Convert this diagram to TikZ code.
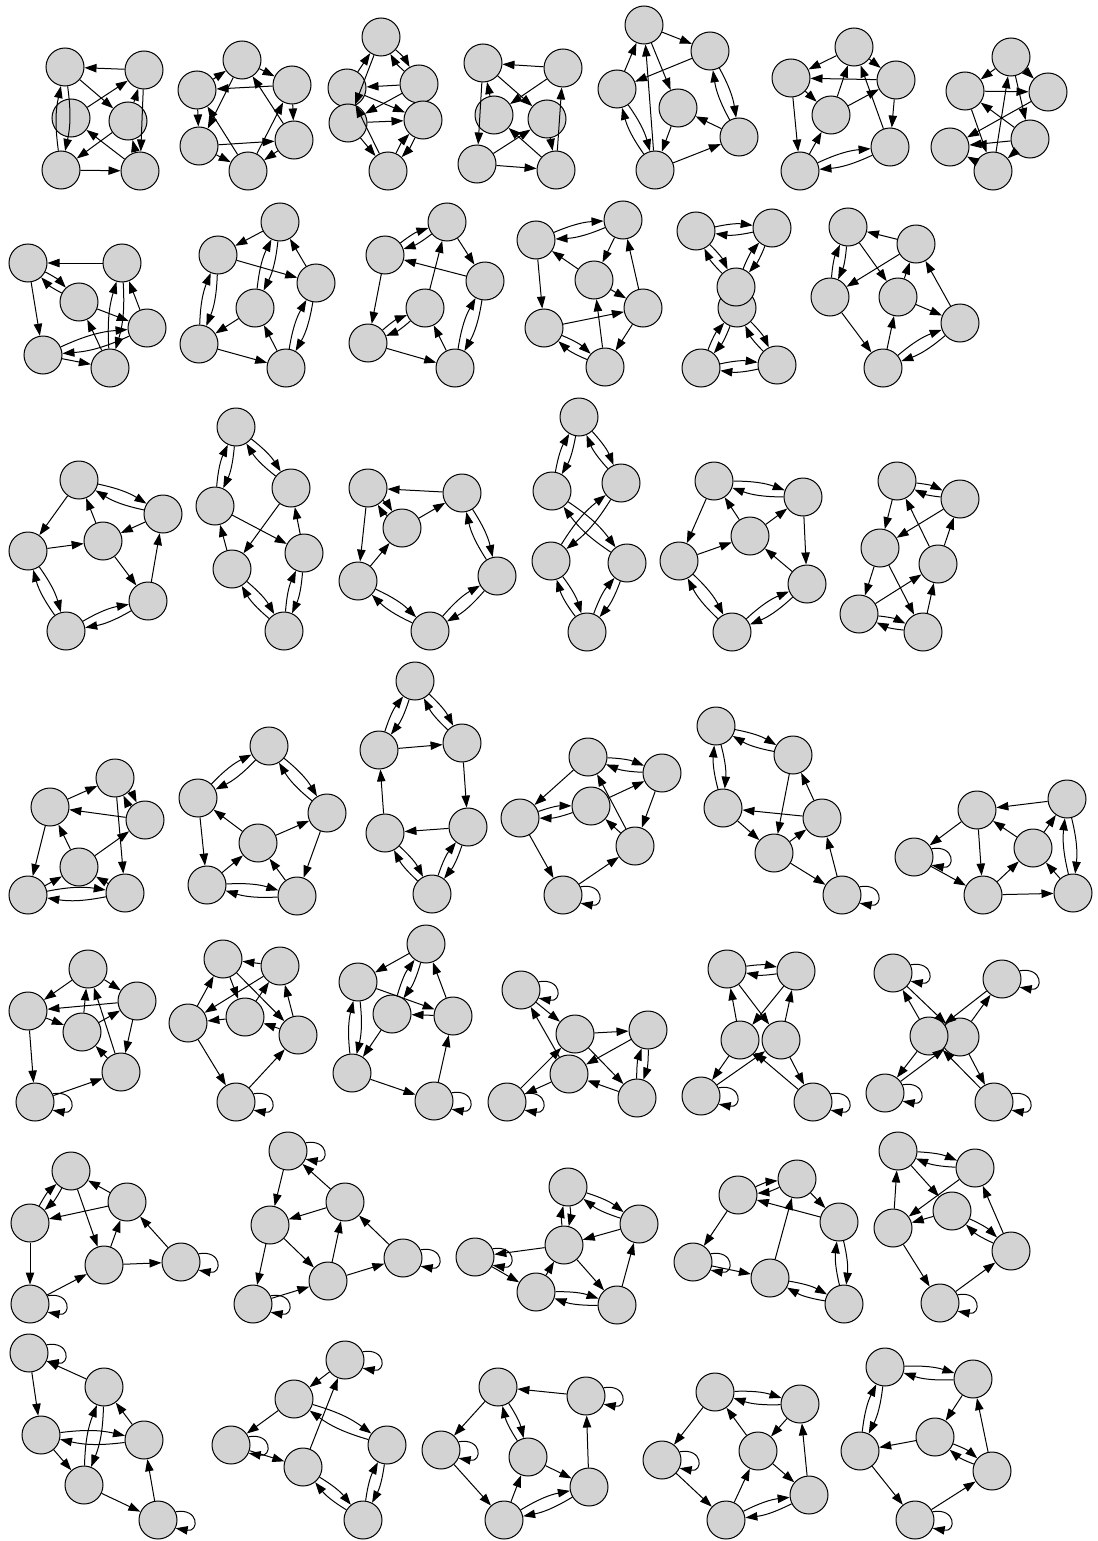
\documentclass[tikz,border=0pt]{standalone}
\usetikzlibrary{arrows.meta}
\definecolor{nodegray}{RGB}{211,211,211}
\tikzset{
  nd/.style={circle,draw=black,fill=nodegray,line width=0.5pt,minimum size=19pt,inner sep=0pt},
  ed/.style={line width=0.5pt,-{Triangle[length=6pt,width=4.2pt]}}
}
\newcommand\gN[3]{\node[nd] (#1) at (#2,#3) {};}
\newcommand\gE[2]{\draw[ed] (#1) -- (#2);}
\newcommand\gB[2]{\draw[ed] (#1) to[bend left=10] (#2); \draw[ed] (#2) to[bend left=10] (#1);}
\newcommand\gL[1]{\draw[ed] (#1.25) .. controls +(10:12pt) and +(-10:12pt) .. (#1.-25);}
\begin{document}
\begin{tikzpicture}[x=0.5pt,y=-0.5pt]
\fill[white] (0,0) rectangle (1097,1541);
\useasboundingbox (0,0) rectangle (1097,1541);
% ---------- Row 1 ----------
% G1
\gN{g1a}{65}{67}\gN{g1b}{144}{70}\gN{g1c}{71}{118}\gN{g1d}{128}{121}\gN{g1e}{61}{170}\gN{g1f}{140}{171}
\gE{g1b}{g1a}\gE{g1a}{g1d}\gE{g1c}{g1b}\gE{g1d}{g1b}\gE{g1b}{g1f}\gE{g1f}{g1d}\gE{g1d}{g1e}\gE{g1f}{g1c}\gE{g1e}{g1f}\gB{g1a}{g1e}
% G2
\gN{g2a}{242}{60}\gN{g2b}{197}{90}\gN{g2c}{292}{85}\gN{g2d}{199}{146}\gN{g2e}{294}{140}\gN{g2f}{248}{171}
\gE{g2b}{g2a}\gE{g2a}{g2c}\gE{g2c}{g2b}\gE{g2a}{g2d}\gE{g2f}{g2b}\gE{g2b}{g2d}\gE{g2c}{g2e}\gE{g2e}{g2a}\gE{g2d}{g2e}\gE{g2f}{g2c}\gE{g2d}{g2f}\gE{g2e}{g2f}
% G3
\gN{g3a}{381}{37}\gN{g3b}{347}{88}\gN{g3c}{419}{84}\gN{g3d}{348}{123}\gN{g3e}{423}{120}\gN{g3f}{388}{171}
\gE{g3b}{g3a}\gE{g3a}{g3d}\gB{g3a}{g3c}\gE{g3c}{g3b}\gE{g3b}{g3e}\gE{g3c}{g3d}\gE{g3d}{g3e}\gE{g3d}{g3f}\gE{g3f}{g3b}\gB{g3e}{g3f}
% G4
\gN{g4a}{483}{63}\gN{g4b}{563}{68}\gN{g4c}{494}{115}\gN{g4d}{547}{119}\gN{g4e}{477}{164}\gN{g4f}{556}{170}
\gE{g4b}{g4a}\gE{g4a}{g4d}\gE{g4b}{g4c}\gE{g4a}{g4e}\gE{g4c}{g4a}\gE{g4e}{g4d}\gE{g4f}{g4c}\gE{g4e}{g4f}\gE{g4f}{g4b}\gE{g4d}{g4f}
% G5
\gN{g5a}{644}{25}\gN{g5b}{710}{51}\gN{g5c}{617}{89}\gN{g5d}{678}{108}\gN{g5e}{739}{137}\gN{g5f}{655}{170}
\gE{g5a}{g5b}\gE{g5b}{g5c}\gE{g5c}{g5a}\gE{g5a}{g5d}\gE{g5f}{g5a}\gB{g5c}{g5f}\gE{g5d}{g5f}\gE{g5e}{g5d}\gE{g5f}{g5e}\gB{g5b}{g5e}
% G6
\gN{g6a}{854}{47}\gN{g6b}{791}{78}\gN{g6c}{896}{80}\gN{g6d}{831}{115}\gN{g6e}{890}{147}\gN{g6f}{800}{171}
\gE{g6a}{g6b}\gE{g6c}{g6b}\gE{g6a}{g6c}\gE{g6b}{g6d}\gE{g6d}{g6a}\gE{g6d}{g6c}\gE{g6c}{g6e}\gE{g6e}{g6a}\gE{g6b}{g6f}\gE{g6f}{g6d}\gB{g6f}{g6e}
% G7
\gN{g7a}{1011}{57}\gN{g7b}{965}{91}\gN{g7c}{1048}{92}\gN{g7d}{1030}{139}\gN{g7e}{950}{147}\gN{g7f}{993}{171}
\gE{g7a}{g7b}\gE{g7b}{g7c}\gE{g7a}{g7c}\gE{g7a}{g7d}\gE{g7f}{g7a}\gE{g7b}{g7f}\gE{g7c}{g7e}\gE{g7d}{g7e}\gE{g7d}{g7b}\gE{g7f}{g7e}\gE{g7d}{g7f}
% ---------- Row 2 ----------
% G8
\gN{g8a}{28}{263}\gN{g8b}{122}{263}\gN{g8c}{79}{302}\gN{g8d}{147}{328}\gN{g8e}{43}{355}\gN{g8f}{110}{368}
\gE{g8b}{g8a}\gB{g8a}{g8c}\gE{g8a}{g8e}\gE{g8c}{g8d}\gB{g8e}{g8d}\gE{g8e}{g8f}\gE{g8f}{g8c}\gB{g8f}{g8b}\gE{g8d}{g8b}
% G9
\gN{g9a}{280}{222}\gN{g9b}{218}{255}\gN{g9c}{316}{283}\gN{g9d}{255}{308}\gN{g9e}{199}{344}\gN{g9f}{286}{368}
\gE{g9a}{g9b}\gE{g9b}{g9c}\gB{g9a}{g9d}\gE{g9c}{g9a}\gB{g9b}{g9e}\gE{g9d}{g9e}\gE{g9e}{g9f}\gE{g9f}{g9d}\gB{g9f}{g9c}
% G10
\gN{g10a}{447}{222}\gN{g10b}{385}{255}\gN{g10c}{485}{281}\gN{g10d}{425}{308}\gN{g10e}{368}{343}\gN{g10f}{455}{368}
\gB{g10b}{g10a}\gE{g10a}{g10c}\gE{g10c}{g10b}\gE{g10d}{g10a}\gE{g10b}{g10e}\gB{g10e}{g10d}\gE{g10e}{g10f}\gE{g10f}{g10d}\gB{g10f}{g10c}
% G11
\gN{g11a}{536}{240}\gN{g11b}{623}{220}\gN{g11c}{594}{280}\gN{g11d}{643}{308}\gN{g11e}{544}{328}\gN{g11f}{605}{367}
\gB{g11a}{g11b}\gE{g11b}{g11c}\gE{g11c}{g11a}\gE{g11a}{g11e}\gE{g11c}{g11d}\gE{g11d}{g11b}\gE{g11e}{g11d}\gB{g11e}{g11f}\gE{g11f}{g11c}\gE{g11d}{g11f}
% G12
\gN{g12a}{696}{231}\gN{g12b}{772}{228}\gN{g12d}{737}{308}\gN{g12c}{736}{287}\gN{g12e}{701}{368}\gN{g12f}{777}{365}
\gB{g12a}{g12b}\gB{g12a}{g12c}\gB{g12b}{g12c}\gB{g12e}{g12d}\gB{g12f}{g12d}\gB{g12e}{g12f}
% G13
\gN{g13a}{848}{227}\gN{g13b}{916}{244}\gN{g13c}{830}{297}\gN{g13d}{898}{297}\gN{g13e}{960}{323}\gN{g13f}{883}{368}
\gE{g13b}{g13a}\gB{g13c}{g13a}\gE{g13b}{g13c}\gE{g13a}{g13d}\gE{g13d}{g13b}\gE{g13d}{g13e}\gE{g13e}{g13b}\gE{g13c}{g13f}\gE{g13f}{g13d}\gB{g13f}{g13e}
% ---------- Row 3 ----------
% G14
\gN{g14a}{79}{480}\gN{g14b}{163}{514}\gN{g14c}{28}{551}\gN{g14d}{103}{541}\gN{g14e}{148}{601}\gN{g14f}{66}{631}
\gB{g14a}{g14b}\gE{g14a}{g14c}\gE{g14b}{g14d}\gE{g14d}{g14a}\gE{g14c}{g14d}\gE{g14d}{g14e}\gE{g14e}{g14b}\gB{g14c}{g14f}\gB{g14f}{g14e}
% G15
\gN{g15a}{236}{427}\gN{g15b}{215}{506}\gN{g15c}{291}{488}\gN{g15d}{304}{553}\gN{g15e}{232}{569}\gN{g15f}{284}{631}
\gB{g15b}{g15a}\gB{g15a}{g15c}\gE{g15b}{g15d}\gE{g15c}{g15e}\gE{g15e}{g15b}\gE{g15d}{g15c}\gB{g15e}{g15f}\gB{g15f}{g15d}
% G16
\gN{g16a}{368}{488}\gN{g16b}{402}{528}\gN{g16c}{462}{493}\gN{g16d}{358}{581}\gN{g16e}{430}{631}\gN{g16f}{497}{576}
\gE{g16c}{g16a}\gB{g16a}{g16b}\gE{g16b}{g16c}\gE{g16a}{g16d}\gE{g16d}{g16b}\gB{g16d}{g16e}\gB{g16c}{g16f}\gB{g16e}{g16f}
% G17
\gN{g17a}{579}{417}\gN{g17b}{552}{491}\gN{g17c}{621}{483}\gN{g17d}{551}{561}\gN{g17e}{627}{563}\gN{g17f}{587}{632}
\gB{g17b}{g17a}\gB{g17a}{g17c}\gB{g17b}{g17e}\gB{g17c}{g17d}\gB{g17d}{g17f}\gB{g17f}{g17e}
% G18
\gN{g18a}{714}{481}\gN{g18b}{803}{497}\gN{g18c}{750}{536}\gN{g18d}{679}{561}\gN{g18e}{807}{584}\gN{g18f}{732}{632}
\gB{g18a}{g18b}\gE{g18c}{g18a}\gE{g18c}{g18b}\gE{g18a}{g18d}\gE{g18d}{g18c}\gE{g18b}{g18e}\gE{g18e}{g18c}\gB{g18d}{g18f}\gB{g18f}{g18e}
% G19
\gN{g19a}{897}{481}\gN{g19b}{960}{499}\gN{g19c}{880}{548}\gN{g19d}{938}{564}\gN{g19e}{859}{614}\gN{g19f}{923}{632}
\gB{g19a}{g19b}\gE{g19a}{g19c}\gE{g19b}{g19c}\gE{g19d}{g19a}\gE{g19d}{g19b}\gE{g19c}{g19e}\gE{g19c}{g19f}\gE{g19e}{g19d}\gE{g19f}{g19d}\gB{g19e}{g19f}
% ---------- Row 4 ----------
% G20
\gN{g20a}{115}{778}\gN{g20b}{50}{807}\gN{g20c}{145}{820}\gN{g20d}{79}{867}\gN{g20e}{28}{895}\gN{g20f}{125}{893}
\gE{g20b}{g20a}\gB{g20a}{g20c}\gE{g20c}{g20b}\gE{g20d}{g20b}\gE{g20d}{g20c}\gE{g20a}{g20f}\gE{g20b}{g20e}\gE{g20e}{g20d}\gE{g20f}{g20d}\gB{g20e}{g20f}
% G21
\gN{g21a}{269}{746}\gN{g21b}{198}{798}\gN{g21c}{327}{813}\gN{g21d}{258}{843}\gN{g21e}{207}{885}\gN{g21f}{297}{896}
\gB{g21b}{g21a}\gB{g21a}{g21c}\gE{g21d}{g21b}\gE{g21d}{g21c}\gE{g21b}{g21e}\gE{g21c}{g21f}\gE{g21e}{g21d}\gE{g21f}{g21d}\gB{g21e}{g21f}
% G22
\gN{g22a}{415}{681}\gN{g22b}{379}{750}\gN{g22c}{462}{743}\gN{g22d}{385}{833}\gN{g22e}{468}{827}\gN{g22f}{432}{894}
\gB{g22b}{g22a}\gB{g22a}{g22c}\gE{g22b}{g22c}\gE{g22d}{g22b}\gE{g22c}{g22e}\gE{g22e}{g22d}\gB{g22d}{g22f}\gB{g22f}{g22e}
% G23
\gN{g23a}{588}{757}\gN{g23b}{662}{773}\gN{g23c}{520}{818}\gN{g23d}{591}{806}\gN{g23e}{635}{846}\gN{g23f}{563}{895}
\gB{g23a}{g23b}\gE{g23a}{g23c}\gB{g23c}{g23d}\gE{g23d}{g23b}\gE{g23e}{g23a}\gE{g23e}{g23d}\gE{g23b}{g23e}\gE{g23c}{g23f}\gE{g23f}{g23e}\gL{g23f}
% G24
\gN{g24a}{716}{726}\gN{g24b}{793}{755}\gN{g24c}{723}{808}\gN{g24d}{822}{818}\gN{g24e}{774}{853}\gN{g24f}{842}{895}
\gB{g24a}{g24b}\gB{g24c}{g24a}\gE{g24b}{g24e}\gE{g24d}{g24b}\gE{g24d}{g24c}\gE{g24c}{g24e}\gE{g24e}{g24d}\gE{g24e}{g24f}\gE{g24f}{g24d}\gL{g24f}
% G25
\gN{g25a}{977}{810}\gN{g25b}{1067}{799}\gN{g25c}{914}{857}\gN{g25d}{1033}{848}\gN{g25e}{983}{895}\gN{g25f}{1073}{893}
\gE{g25b}{g25a}\gE{g25a}{g25c}\gE{g25a}{g25e}\gE{g25d}{g25a}\gE{g25d}{g25b}\gE{g25c}{g25e}\gE{g25e}{g25d}\gE{g25e}{g25f}\gE{g25f}{g25d}\gB{g25b}{g25f}\gL{g25c}
% ---------- Row 5 ----------
% G26
\gN{g26a}{88}{969}\gN{g26b}{28}{1011}\gN{g26c}{137}{1001}\gN{g26d}{82}{1032}\gN{g26e}{121}{1072}\gN{g26f}{35}{1102}
\gE{g26a}{g26b}\gE{g26a}{g26c}\gE{g26c}{g26b}\gE{g26b}{g26d}\gE{g26d}{g26a}\gE{g26d}{g26c}\gE{g26c}{g26e}\gE{g26e}{g26a}\gE{g26e}{g26d}\gE{g26b}{g26f}\gE{g26f}{g26e}\gL{g26f}
% G27
\gN{g27a}{223}{959}\gN{g27b}{280}{966}\gN{g27c}{188}{1023}\gN{g27d}{245}{1017}\gN{g27e}{298}{1035}\gN{g27f}{236}{1102}
\gE{g27b}{g27a}\gE{g27c}{g27a}\gE{g27a}{g27d}\gE{g27b}{g27c}\gE{g27d}{g27b}\gE{g27a}{g27e}\gE{g27d}{g27c}\gE{g27e}{g27d}\gE{g27e}{g27b}\gE{g27c}{g27f}\gE{g27f}{g27e}\gL{g27f}
% G28
\gN{g28a}{426}{944}\gN{g28b}{358}{982}\gN{g28c}{392}{1014}\gN{g28d}{453}{1016}\gN{g28e}{352}{1073}\gN{g28f}{434}{1101}
\gE{g28a}{g28b}\gB{g28c}{g28a}\gE{g28b}{g28d}\gE{g28d}{g28c}\gE{g28d}{g28a}\gB{g28e}{g28b}\gE{g28c}{g28e}\gE{g28e}{g28f}\gE{g28f}{g28d}\gL{g28f}
% G29
\gN{g29a}{521}{990}\gN{g29b}{575}{1034}\gN{g29c}{648}{1030}\gN{g29d}{569}{1074}\gN{g29e}{507}{1102}\gN{g29f}{637}{1098}
\gE{g29a}{g29b}\gE{g29b}{g29c}\gE{g29c}{g29d}\gE{g29d}{g29a}\gE{g29e}{g29b}\gE{g29d}{g29e}\gE{g29b}{g29f}\gE{g29f}{g29d}\gB{g29f}{g29c}\gL{g29a}\gL{g29e}
% G30
\gN{g30a}{727}{969}\gN{g30b}{796}{971}\gN{g30c}{740}{1040}\gN{g30d}{781}{1040}\gN{g30e}{701}{1096}\gN{g30f}{813}{1102}
\gB{g30a}{g30b}\gE{g30c}{g30a}\gE{g30a}{g30d}\gE{g30b}{g30c}\gE{g30d}{g30b}\gE{g30c}{g30e}\gE{g30e}{g30d}\gE{g30f}{g30c}\gE{g30d}{g30f}\gL{g30e}\gL{g30f}
% G31
\gN{g31a}{893}{973}\gN{g31b}{1002}{979}\gN{g31d}{960}{1037}\gN{g31c}{929}{1036}\gN{g31e}{885}{1093}\gN{g31f}{994}{1102}
\gE{g31c}{g31a}\gE{g31a}{g31d}\gE{g31b}{g31c}\gE{g31d}{g31b}\gE{g31c}{g31e}\gE{g31e}{g31d}\gE{g31f}{g31c}\gE{g31d}{g31f}\gL{g31a}\gL{g31b}\gL{g31e}\gL{g31f}
% ---------- Row 6 ----------
% G32
\gN{g32a}{71}{1171}\gN{g32b}{127}{1202}\gN{g32c}{30}{1223}\gN{g32d}{104}{1265}\gN{g32e}{181}{1262}\gN{g32f}{30}{1304}
\gB{g32c}{g32a}\gE{g32b}{g32a}\gE{g32b}{g32c}\gE{g32a}{g32d}\gE{g32d}{g32b}\gE{g32e}{g32b}\gE{g32c}{g32f}\gE{g32f}{g32d}\gE{g32d}{g32e}\gL{g32e}\gL{g32f}
% G33
\gN{g33a}{288}{1151}\gN{g33b}{345}{1202}\gN{g33c}{270}{1225}\gN{g33d}{328}{1281}\gN{g33e}{403}{1258}\gN{g33f}{253}{1304}
\gE{g33a}{g33c}\gE{g33b}{g33a}\gE{g33b}{g33c}\gE{g33c}{g33d}\gE{g33d}{g33b}\gE{g33e}{g33b}\gE{g33c}{g33f}\gE{g33f}{g33d}\gE{g33d}{g33e}\gL{g33a}\gL{g33f}\gL{g33e}
% G34
\gN{g34a}{568}{1187}\gN{g34b}{639}{1224}\gN{g34c}{564}{1245}\gN{g34d}{475}{1257}\gN{g34e}{536}{1292}\gN{g34f}{617}{1305}
\gB{g34a}{g34b}\gB{g34a}{g34c}\gE{g34b}{g34c}\gE{g34c}{g34d}\gE{g34d}{g34e}\gE{g34c}{g34f}\gE{g34e}{g34c}\gE{g34f}{g34b}\gB{g34e}{g34f}\gL{g34d}
% G35
\gN{g35a}{738}{1195}\gN{g35b}{797}{1179}\gN{g35c}{839}{1222}\gN{g35d}{693}{1262}\gN{g35e}{770}{1278}\gN{g35f}{844}{1304}
\gB{g35a}{g35b}\gE{g35c}{g35a}\gE{g35b}{g35c}\gE{g35a}{g35d}\gE{g35e}{g35b}\gE{g35d}{g35e}\gB{g35e}{g35f}\gB{g35c}{g35f}\gL{g35d}
% G36
\gN{g36a}{898}{1151}\gN{g36b}{975}{1168}\gN{g36c}{952}{1211}\gN{g36d}{893}{1228}\gN{g36e}{1011}{1251}\gN{g36f}{940}{1303}
\gB{g36a}{g36b}\gE{g36d}{g36a}\gE{g36a}{g36c}\gE{g36b}{g36d}\gE{g36c}{g36d}\gE{g36e}{g36b}\gB{g36c}{g36e}\gE{g36d}{g36f}\gE{g36f}{g36e}\gL{g36f}
% ---------- Row 7 ----------
% G37
\gN{g37a}{29}{1353}\gN{g37b}{104}{1387}\gN{g37c}{41}{1435}\gN{g37d}{144}{1440}\gN{g37e}{84}{1485}\gN{g37f}{158}{1520}
\gE{g37b}{g37a}\gE{g37a}{g37c}\gB{g37c}{g37d}\gB{g37e}{g37b}\gE{g37d}{g37b}\gE{g37c}{g37e}\gE{g37e}{g37f}\gE{g37f}{g37d}\gL{g37a}\gL{g37f}
% G38
\gN{g38a}{345}{1360}\gN{g38b}{294}{1399}\gN{g38c}{231}{1445}\gN{g38d}{387}{1445}\gN{g38e}{303}{1467}\gN{g38f}{363}{1520}
\gE{g38a}{g38b}\gE{g38b}{g38c}\gB{g38b}{g38d}\gE{g38e}{g38a}\gE{g38c}{g38e}\gB{g38e}{g38f}\gB{g38f}{g38d}\gL{g38a}\gL{g38c}
% G39
\gN{g39a}{498}{1387}\gN{g39b}{586}{1396}\gN{g39c}{441}{1450}\gN{g39d}{528}{1457}\gN{g39e}{589}{1487}\gN{g39f}{504}{1520}
\gE{g39b}{g39a}\gE{g39a}{g39c}\gB{g39a}{g39d}\gE{g39d}{g39e}\gE{g39e}{g39b}\gE{g39c}{g39f}\gE{g39f}{g39d}\gB{g39f}{g39e}\gL{g39b}\gL{g39c}
% G40
\gN{g40a}{715}{1392}\gN{g40b}{800}{1404}\gN{g40c}{662}{1460}\gN{g40d}{758}{1451}\gN{g40e}{809}{1495}\gN{g40f}{726}{1520}
\gB{g40a}{g40b}\gE{g40a}{g40c}\gE{g40d}{g40a}\gE{g40b}{g40d}\gE{g40d}{g40e}\gE{g40e}{g40b}\gE{g40c}{g40f}\gE{g40f}{g40d}\gB{g40f}{g40e}\gL{g40c}
% G41
\gN{g41a}{885}{1367}\gN{g41b}{973}{1379}\gN{g41c}{860}{1451}\gN{g41d}{935}{1437}\gN{g41e}{992}{1471}\gN{g41f}{915}{1520}
\gB{g41a}{g41b}\gB{g41c}{g41a}\gE{g41b}{g41d}\gE{g41d}{g41c}\gB{g41d}{g41e}\gE{g41e}{g41b}\gE{g41c}{g41f}\gE{g41f}{g41e}\gL{g41f}
\end{tikzpicture}
\end{document}
